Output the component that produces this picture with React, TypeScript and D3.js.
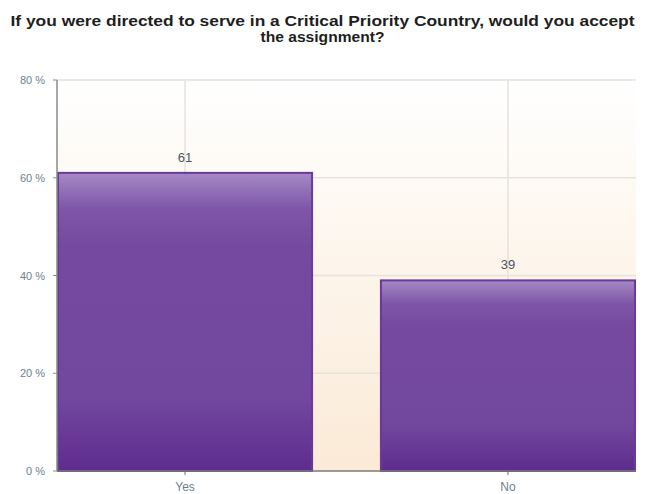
import React from "react";
import * as d3 from "d3";

const categories = ["Yes", "No"];
const values = [61, 39];
const yTicks = [0, 20, 40, 60, 80];
const titleLines = [
  "If you were directed to serve in a Critical Priority Country, would you accept",
  "the assignment?",
];

const W = 645;
const H = 494;
const M = { left: 57, right: 9, top: 80, bottom: 23 };

export default function App() {
  const x = d3
    .scaleBand<string>()
    .domain(categories)
    .range([M.left, W - M.right])
    .paddingInner(0.207)
    .paddingOuter(0);
  const y = d3.scaleLinear().domain([0, 80]).range([H - M.bottom, M.top]);
  const font = "Arial, 'Liberation Sans', sans-serif";
  const x0 = M.left;
  const x1 = W - M.right;
  const yb = y(0);
  const yt = y(80);
  const titleWidths = [624, 124];
  return (
    <svg
      width={W}
      height={H}
      style={{ position: "absolute", left: 0, top: 0, background: "#fff" }}
      fontFamily={font}
    >
      <defs>
        <linearGradient id="bg" x1="0" y1="0" x2="0" y2="1">
          <stop offset="0" stopColor="#ffffff" />
          <stop offset="1" stopColor="#fbead6" />
        </linearGradient>
        <linearGradient id="bar" x1="0" y1="0" x2="0" y2="1">
          <stop offset="0" stopColor="#a589c4" />
          <stop offset="0.12" stopColor="#7e56a8" />
          <stop offset="0.25" stopColor="#74499f" />
          <stop offset="0.75" stopColor="#72489e" />
          <stop offset="1" stopColor="#5e2c8e" />
        </linearGradient>
      </defs>
      {titleLines.map((t, i) => (
        <text
          key={i}
          x={W / 2}
          y={26 + i * 16}
          textAnchor="middle"
          fontSize={14}
          fontWeight="bold"
          fill="#1e1e1e"
          textLength={titleWidths[i]}
          lengthAdjust="spacingAndGlyphs"
        >
          {t}
        </text>
      ))}
      <rect x={x0} y={yt} width={x1 - x0} height={yb - yt} fill="url(#bg)" />
      {yTicks.slice(1).map((t) => (
        <line key={t} x1={x0} x2={x1} y1={y(t)} y2={y(t)} stroke="#e6e2dc" strokeWidth={1.5} />
      ))}
      {categories.map((c) => (
        <line
          key={c}
          x1={x(c)! + x.bandwidth() / 2}
          x2={x(c)! + x.bandwidth() / 2}
          y1={yt}
          y2={yb}
          stroke="#e6e2dc"
          strokeWidth={1.5}
        />
      ))}
      {categories.map((c, i) => (
        <g key={c}>
          <rect
            x={x(c)! + 1}
            y={y(values[i])}
            width={x.bandwidth() - 2}
            height={yb - y(values[i])}
            fill="url(#bar)"
            stroke="#6a3a9a"
            strokeWidth={2}
          />
          <text
            x={x(c)! + x.bandwidth() / 2}
            y={y(values[i]) - 11}
            textAnchor="middle"
            fontSize={13}
            fill="#4a5560"
          >
            {values[i]}
          </text>
        </g>
      ))}
      <line x1={x0} x2={x0} y1={yt} y2={yb} stroke="#8a8a8a" strokeWidth={1.5} />
      <line x1={x0} x2={x1} y1={yb} y2={yb} stroke="#7a7a7a" strokeWidth={1.5} />
      {yTicks.map((t) => (
        <g key={t}>
          <line x1={x0 - 4} x2={x0} y1={y(t)} y2={y(t)} stroke="#8a8a8a" />
          <text
            x={x0 - 12}
            y={y(t) + 4}
            textAnchor="end"
            fontSize={11}
            fill="#6e7f8e"
          >
            {t} %
          </text>
        </g>
      ))}
      {categories.map((c) => (
        <g key={c}>
          <line
            x1={x(c)! + x.bandwidth() / 2}
            x2={x(c)! + x.bandwidth() / 2}
            y1={yb}
            y2={yb + 4}
            stroke="#6a6a6a"
          />
          <text
            x={x(c)! + x.bandwidth() / 2}
            y={yb + 20}
            textAnchor="middle"
            fontSize={12}
            fill="#6e7f8e"
          >
            {c}
          </text>
        </g>
      ))}
    </svg>
  );
}
